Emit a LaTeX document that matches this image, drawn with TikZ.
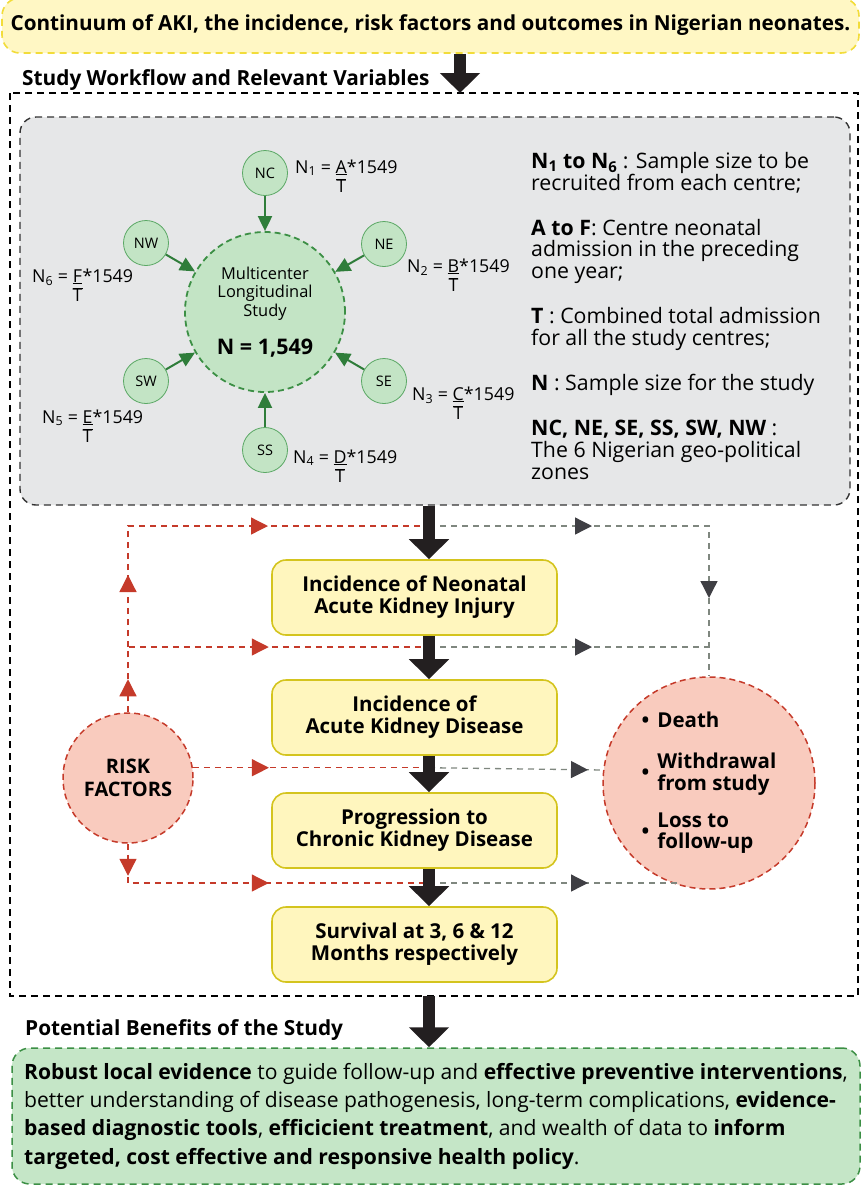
\documentclass[tikz,border=0pt]{standalone}
\usepackage{fontspec}
\setmainfont{Open Sans}
\usepackage{xcolor}
\usepackage{tikz}
\usetikzlibrary{arrows.meta,positioning,calc,decorations.markings}

\definecolor{titlefill}{HTML}{FFF7C4}
\definecolor{titleline}{HTML}{F2DC3A}
\definecolor{flowfill}{HTML}{FFF6BE}
\definecolor{flowline}{HTML}{D4C41E}
\definecolor{panelgrey}{HTML}{E6E7E8}
\definecolor{zonefill}{HTML}{C3E4C5}
\definecolor{zoneline}{HTML}{5BA865}
\definecolor{zonedash}{HTML}{3C8F45}
\definecolor{zonearrow}{HTML}{2F7D3A}
\definecolor{riskfill}{HTML}{F9CBBE}
\definecolor{riskred}{HTML}{C53A2A}
\definecolor{exitgrey}{HTML}{7F877F}
\definecolor{tipgrey}{HTML}{3F3F44}
\definecolor{arrowblack}{HTML}{231F20}
\definecolor{benefitfill}{HTML}{C5E6C7}

\newcommand\zoneshare[2]{N\textsubscript{#1} = \begin{tabular}[t]{@{}c@{}}\underline{#2}\\$\overline{\mbox{T}}$\end{tabular}*1549}

\begin{document}
\begin{tikzpicture}[x=1pt, y=-1pt,
  titlebox/.style={draw=titleline, fill=titlefill, line width=1.6pt, dash pattern=on 7pt off 5pt,
              rounded corners=18pt, minimum width=857pt, minimum height=55pt,
              font=\fontsize{20.7}{22}\selectfont\bfseries, inner sep=0pt},
  head/.style={anchor=base west, inner sep=0pt, font=\fontsize{20.8}{20.8}\selectfont\bfseries},
  flowbox/.style={draw=flowline, fill=flowfill, line width=1.6pt, rounded corners=14pt,
              minimum width=285pt, minimum height=75pt, align=center,
              font=\fontsize{20.5}{22}\selectfont\bfseries, inner sep=0pt},
  zone/.style={circle, draw=zoneline, fill=zonefill, line width=0.8pt, minimum size=45pt,
              inner sep=0pt, font=\fontsize{14.5}{14.5}\selectfont},
  share/.style={anchor=base west, inner sep=0pt, font=\fontsize{17.8}{17}\selectfont},
  garr/.style={draw=zonearrow, line width=2pt, -{Triangle[length=15pt,width=14pt]}},
  bigarr/.style={draw=arrowblack, line width=12.5pt, -{Triangle[length=20pt,width=39pt]}},
  redl/.style={draw=riskred, line width=1.3pt, dash pattern=on 6pt off 5pt},
  greyl/.style={draw=exitgrey, line width=1.3pt, dash pattern=on 6pt off 5pt},
  rtip/.style={postaction={decorate, decoration={markings,
              mark=at position #1 with {\arrow[riskred]{Triangle[length=17pt,width=17pt]}}}}},
  gtip/.style={postaction={decorate, decoration={markings,
              mark=at position #1 with {\arrow[tipgrey]{Triangle[length=17pt,width=17pt]}}}}}
]
\useasboundingbox (0,0) rectangle (863,1186);

\node[titlebox] (title) at (430.5,25.5) {Continuum of AKI, the incidence, risk factors and outcomes in Nigerian neonates.};
\node[head] (wfhead) at (22,85) {Study Workflow and Relevant Variables};
\draw[line width=1.4pt, dash pattern=on 7pt off 5pt] (10,93) rectangle (858,996);

\node[draw=black!80, line width=1.4pt, dash pattern=on 7pt off 5pt, fill=panelgrey,
      rounded corners=16pt, minimum width=830pt, minimum height=388pt] (panel) at (435,311) {};

\node[circle, fill=zonefill, draw=zonedash, line width=1.8pt, dash pattern=on 6pt off 4pt,
      minimum size=160pt, inner sep=0pt, align=center,
      font=\fontsize{16.4}{18.5}\selectfont] (main) at (265,312)
      {Multicenter\\Longitudinal\\Study\\[18pt]{\fontsize{21.5}{21.5}\selectfont\bfseries N = 1,549}};

\node[zone] (nc) at (265,173) {NC};
\node[zone] (ne) at (384,244) {NE};
\node[zone] (se) at (384,381) {SE};
\node[zone] (ss) at (265,450) {SS};
\node[zone] (sw) at (146,381) {SW};
\node[zone] (nw) at (146,243) {NW};
\foreach \z in {nc,ne,se,ss,sw,nw}
  \draw[garr] (\z) -- (main);

\node[share] (lnc) at (295,173) {\zoneshare{1}{A}};
\node[share] (lne) at (407,272) {\zoneshare{2}{B}};
\node[share] (lse) at (412,400) {\zoneshare{3}{C}};
\node[share] (lss) at (293,463) {\zoneshare{4}{D}};
\node[share] (lsw) at (42,423) {\zoneshare{5}{E}};
\node[share] (lnw) at (32,282) {\zoneshare{6}{F}};

\node[anchor=north west, inner sep=0pt, align=left, font=\fontsize{21.3}{21.7}\selectfont] (key) at (531,152)
  {{\bfseries N\textsubscript{1} to N\textsubscript{6}} : Sample size to be\\
   recruited from each centre;\\[23.5pt]
   {\bfseries A to F}: Centre neonatal\\
   admission in the preceding\\
   one year;\\[23.5pt]
   {\bfseries T} : Combined total admission\\
   for all the study centres;\\[23.5pt]
   {\bfseries N} : Sample size for the study\\[23.5pt]
   {\bfseries NC, NE, SE, SS, SW, NW} :\\
   The 6 Nigerian geo-political\\
   zones};

\node[flowbox] (aki) at (414.5,597.5) {Incidence of Neonatal\\Acute Kidney Injury};
\node[flowbox] (akd) at (414.5,717.5) {Incidence of\\Acute Kidney Disease};
\node[flowbox] (ckd) at (414.5,830.5) {Progression to\\Chronic Kidney Disease};
\node[flowbox] (surv) at (414.5,944.5) {Survival at 3, 6 \& 12\\Months respectively};

\node[circle, fill=riskfill, draw=riskred, line width=1.5pt, dash pattern=on 6pt off 4pt,
      minimum size=130pt, inner sep=0pt, align=center,
      font=\fontsize{20}{23}\selectfont\bfseries] (risk) at (128,778) {RISK\\FACTORS};
\node[circle, fill=riskfill, draw=riskred, line width=1.5pt, dash pattern=on 6pt off 4pt,
      minimum size=212pt, inner sep=0pt,
      font=\fontsize{20.5}{19.5}\selectfont\bfseries] (exit) at (709,783)
  {\begin{tabular}{@{}c@{\hspace{8pt}}l@{}}
   \textbullet & Death\\[20pt]
   \textbullet & \begin{tabular}{@{}l@{}}Withdrawal\\from study\end{tabular}\\[27pt]
   \textbullet & \begin{tabular}{@{}l@{}}Loss to\\follow-up\end{tabular}
   \end{tabular}};

\coordinate (j1) at (429,526);
\coordinate (j2) at (429,647);
\coordinate (j3) at (risk.9 -| j1);
\coordinate (j4) at (429,883);
\coordinate (a1) at (risk.north |- j1);
\coordinate (a2) at (risk.north |- j2);
\coordinate (a4) at (risk.south |- j4);
\coordinate (g1) at (exit.north |- j1);
\coordinate (g2) at (exit.north |- j2);

\draw[redl, rtip=72pt, rtip=261pt] (a2) -- (a1) -- (j1);
\draw[redl, rtip=33pt, rtip=206pt] (risk.north) -- (a2) -- (j2);
\draw[redl, rtip=76pt] (risk.9) -- (j3);
\draw[redl, rtip=32pt, rtip=180pt] (risk.south) -- (a4) -- (j4);

\draw[greyl, gtip=163pt, gtip=352pt] (j1) -- (g1) -- (exit.north);
\draw[greyl, gtip=163pt] (j2) -- (g2);
\draw[greyl, gtip=159pt] (j3) -- (exit.173);
\draw[greyl, gtip=159pt] (j4) -- (j4 -| exit.254);

\coordinate (topdrop) at (460,93);
\coordinate (framebase) at (429,996);
\node[head] (benhead) at (25,1035) {Potential Benefits of the Study};
\node[draw=zonedash, line width=1.5pt, dash pattern=on 7pt off 5pt, fill=benefitfill,
      rounded corners=18pt, minimum width=848pt, minimum height=136pt, align=left,
      font=\fontsize{21.1}{28.3}\selectfont] (benefit) at (436,1116)
  {\textbf{Robust local evidence} to guide follow-up and \textbf{effective preventive interventions},\\
   better understanding of disease pathogenesis, long-term complications, \textbf{evidence-}\\
   \textbf{based diagnostic tools}, \textbf{efficicient treatment}, and wealth of data to \textbf{inform}\\
   \textbf{targeted, cost effective and responsive health policy}.};

\draw[bigarr] (title.south -| topdrop) -- (topdrop);
\draw[bigarr] (panel.south -| j1) -- (aki.north -| j1);
\draw[bigarr] (aki.south -| j1) -- (akd.north -| j1);
\draw[bigarr] (akd.south -| j1) -- (ckd.north -| j1);
\draw[bigarr] (ckd.south -| j1) -- (surv.north -| j1);
\draw[bigarr] (framebase) -- (benefit.north -| j1);
\end{tikzpicture}
\end{document}
